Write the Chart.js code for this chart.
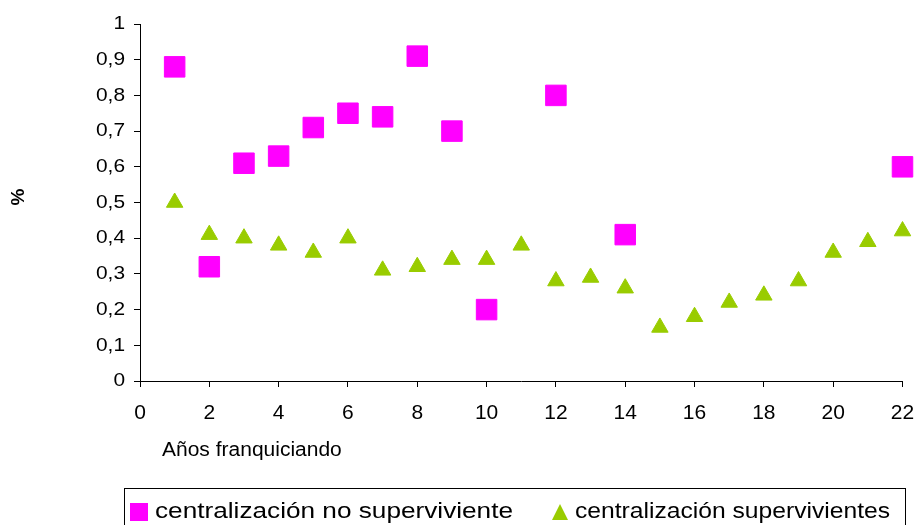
<!DOCTYPE html>
<html>
<head>
<meta charset="utf-8">
<script src="https://cdn.jsdelivr.net/npm/chart.js@4/dist/chart.umd.min.js"></script>
<style>
  html, body { margin: 0; padding: 0; background: #fff; }
  #wrap { width: 918px; height: 525px; position: relative; }
</style>
</head>
<body>
<div id="wrap"><canvas id="c" width="918" height="525"></canvas></div>
<script>
// Years of franchising (x) and share of centralization (y)
const yearsNoSurvivor = [1, 2, 3, 4, 5, 6, 7, 8, 9, 10, 12, 14, 22];
const centralNoSurvivor = [0.88, 0.32, 0.61, 0.63, 0.71, 0.75, 0.74, 0.91, 0.70, 0.20, 0.80, 0.41, 0.60];

const yearsSurvivor = [1, 2, 3, 4, 5, 6, 7, 8, 9, 10, 11, 12, 13, 14, 15, 16, 17, 18, 19, 20, 21, 22];
const centralSurvivor = [0.50, 0.41, 0.40, 0.38, 0.36, 0.40, 0.31, 0.32, 0.34, 0.34, 0.38, 0.28, 0.29, 0.26, 0.15, 0.18, 0.22, 0.24, 0.28, 0.36, 0.39, 0.42];

const seriesNames = ['centralización no superviviente', 'centralización supervivientes'];
const xTitle = 'Años franquiciando';
const yTitle = '%';

const PINK = '#ff00ff';
const GREEN = '#99cc00';
const FONT = '"Liberation Sans", Arial, sans-serif';

const toPoints = (xs, ys) => xs.map((x, i) => ({ x: x, y: ys[i] }));
const fmt = v => String(Math.round(v * 10) / 10).replace('.', ',');

// text drawn with a horizontal stretch factor
function wideText(ctx, text, x, y, sx, align) {
  ctx.save();
  ctx.translate(x, y);
  ctx.scale(sx, 1);
  ctx.textAlign = align;
  ctx.fillText(text, 0, 0);
  ctx.restore();
}

const frame = {
  id: 'frame',
  afterDraw(chart) {
    const ctx = chart.ctx;
    const xs = chart.scales.x;
    const ys = chart.scales.y;

    ctx.save();
    ctx.fillStyle = '#000';
    ctx.textBaseline = 'middle';

    // tick labels taken from the scales
    ctx.font = '19px ' + FONT;
    ys.ticks.forEach(t => {
      wideText(ctx, fmt(t.value), 125, ys.getPixelForValue(t.value), 1.1, 'right');
    });
    ctx.font = '20px ' + FONT;
    xs.ticks.forEach(t => {
      wideText(ctx, fmt(t.value), xs.getPixelForValue(t.value), 413, 1.05, 'center');
    });

    // y-axis title
    ctx.save();
    ctx.font = 'bold 19px ' + FONT;
    ctx.textAlign = 'center';
    ctx.translate(19, 197);
    ctx.rotate(-Math.PI / 2);
    ctx.fillText(yTitle, 0, 0);
    ctx.restore();

    // x-axis title
    ctx.font = '20px ' + FONT;
    wideText(ctx, xTitle, 162, 450, 1.05, 'left');

    // legend box
    ctx.strokeStyle = '#000';
    ctx.lineWidth = 1;
    ctx.strokeRect(124.5, 488.5, 781, 45);

    ctx.font = '22px ' + FONT;
    const ly = 512;
    ctx.fillStyle = PINK;
    ctx.fillRect(130, 503, 18, 18);
    ctx.fillStyle = '#000';
    wideText(ctx, seriesNames[0], 155, ly, 1.19, 'left');

    ctx.fillStyle = GREEN;
    ctx.beginPath();
    ctx.moveTo(560, 504);
    ctx.lineTo(568, 520);
    ctx.lineTo(552, 520);
    ctx.closePath();
    ctx.fill();
    ctx.fillStyle = '#000';
    wideText(ctx, seriesNames[1], 575, ly, 1.12, 'left');
    ctx.restore();
  }
};

new Chart(document.getElementById('c'), {
  type: 'scatter',
  data: {
    datasets: [
      {
        label: seriesNames[0],
        data: toPoints(yearsNoSurvivor, centralNoSurvivor),
        pointStyle: 'rect',
        pointRadius: 14.5,
        pointHoverRadius: 14.5,
        backgroundColor: PINK,
        borderColor: PINK,
        borderWidth: 1,
        clip: false
      },
      {
        label: seriesNames[1],
        data: toPoints(yearsSurvivor, centralSurvivor),
        pointStyle: 'triangle',
        pointRadius: 9.5,
        pointHoverRadius: 9.5,
        backgroundColor: GREEN,
        borderColor: GREEN,
        borderWidth: 1,
        clip: false
      }
    ]
  },
  options: {
    responsive: false,
    animation: false,
    layout: { padding: { top: 24, right: 11, left: 0, bottom: 0 } },
    plugins: { legend: { display: false }, tooltip: { enabled: false } },
    scales: {
      x: {
        type: 'linear',
        min: 0,
        max: 22,
        afterFit(scale) { scale.height = 144; },
        ticks: { stepSize: 2, display: false },
        grid: { drawOnChartArea: false, drawTicks: true, tickLength: 6, color: '#000' },
        border: { display: true, color: '#000', width: 1 }
      },
      y: {
        min: 0,
        max: 1,
        afterFit(scale) { scale.width = 140; },
        ticks: { stepSize: 0.1, display: false },
        grid: { drawOnChartArea: false, drawTicks: true, tickLength: 6, color: '#000' },
        border: { display: true, color: '#000', width: 1 }
      }
    }
  },
  plugins: [frame]
});
</script>
</body>
</html>
